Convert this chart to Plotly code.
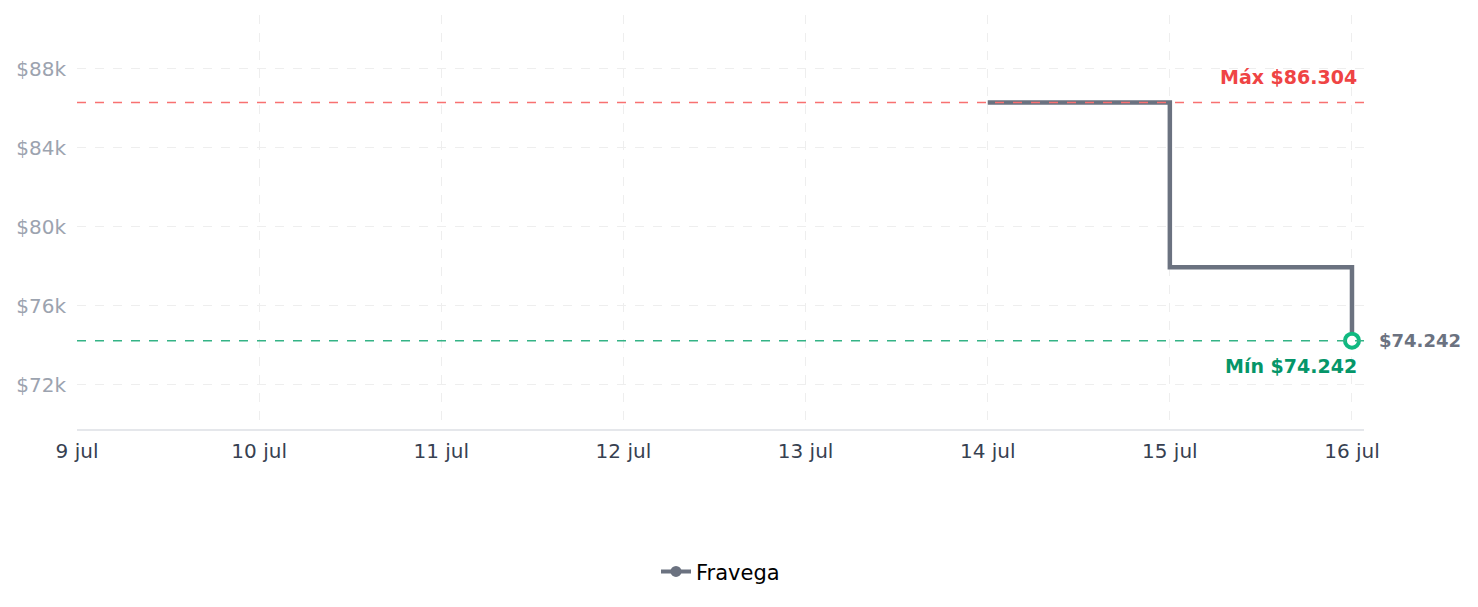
import plotly.graph_objects as go

dates = ["2024-07-14", "2024-07-15", "2024-07-16"]
prices = [86304, 77960, 74242]
max_price = 86304
min_price = 74242
last_label = "$74.242"
max_label = "Máx $86.304"
min_label = "Mín $74.242"
series_name = "Fravega"

x_tickvals = ["2024-07-09", "2024-07-10", "2024-07-11", "2024-07-12",
              "2024-07-13", "2024-07-14", "2024-07-15", "2024-07-16"]
x_ticktext = ["9 jul", "10 jul", "11 jul", "12 jul", "13 jul", "14 jul", "15 jul", "16 jul"]
y_tickvals = [72000, 76000, 80000, 84000, 88000]
y_ticktext = ["$72k", "$76k", "$80k", "$84k", "$88k"]

FONT = "DejaVu Sans"
GRAY = "#6b7280"

fig = go.Figure()

fig.add_trace(go.Scatter(
    x=dates, y=prices, mode="lines", line=dict(color=GRAY, width=4.5, shape="hv"),
    showlegend=False, hoverinfo="skip"))

fig.add_trace(go.Scatter(
    x=[dates[-1]], y=[prices[-1]], mode="markers",
    marker=dict(size=14, color="white", line=dict(color="#10b981", width=4)),
    showlegend=False, hoverinfo="skip"))

fig.add_trace(go.Scatter(
    x=[None], y=[None], mode="lines+markers", name=series_name,
    line=dict(color=GRAY, width=4), marker=dict(color=GRAY, size=11)))

fig.add_hline(y=max_price, line=dict(color="#f87171", width=1.5, dash="dash"))
fig.add_hline(y=min_price, line=dict(color="#34b386", width=1.5, dash="dash"))

fig.add_annotation(x=dates[-1], y=max_price, text="<b>" + max_label + "</b>",
                   showarrow=False, xanchor="right", yanchor="bottom", xshift=7, yshift=12,
                   font=dict(family=FONT, size=19, color="#ef4444"))
fig.add_annotation(x=dates[-1], y=min_price, text="<b>" + min_label + "</b>",
                   showarrow=False, xanchor="right", yanchor="top", xshift=7, yshift=-12,
                   font=dict(family=FONT, size=19, color="#059669"))
fig.add_annotation(x=dates[-1], y=prices[-1], text="<b>" + last_label + "</b>",
                   showarrow=False, xanchor="left", yanchor="middle", xshift=25,
                   font=dict(family=FONT, size=18, color=GRAY))

fig.update_layout(
    width=1478, height=607,
    margin=dict(l=77, r=114, t=15, b=178),
    paper_bgcolor="white", plot_bgcolor="white",
    font=dict(family=FONT, size=20, color="#374151"),
    legend=dict(orientation="h", x=0.5, xanchor="center", y=-0.345, yanchor="middle",
                font=dict(family=FONT, size=21, color="black")),
    xaxis=dict(
        type="date", range=["2024-07-09 00:00", "2024-07-16 01:35"],
        tickvals=x_tickvals, ticktext=x_ticktext,
        showgrid=True, gridcolor="#eeeeee", griddash="dash", gridwidth=1,
        showline=True, linecolor="#e5e7eb", linewidth=1.5,
        zeroline=False, ticks="", ticklabelstandoff=3,
        tickfont=dict(family=FONT, size=20, color="#374151")),
    yaxis=dict(
        range=[69770, 90730],
        tickvals=y_tickvals, ticktext=y_ticktext,
        showgrid=True, gridcolor="#eeeeee", griddash="dash", gridwidth=1,
        showline=False, zeroline=False, ticks="", ticklabelstandoff=10,
        tickfont=dict(family=FONT, size=20, color="#9ca3af")),
)

fig.write_html("out.html")
